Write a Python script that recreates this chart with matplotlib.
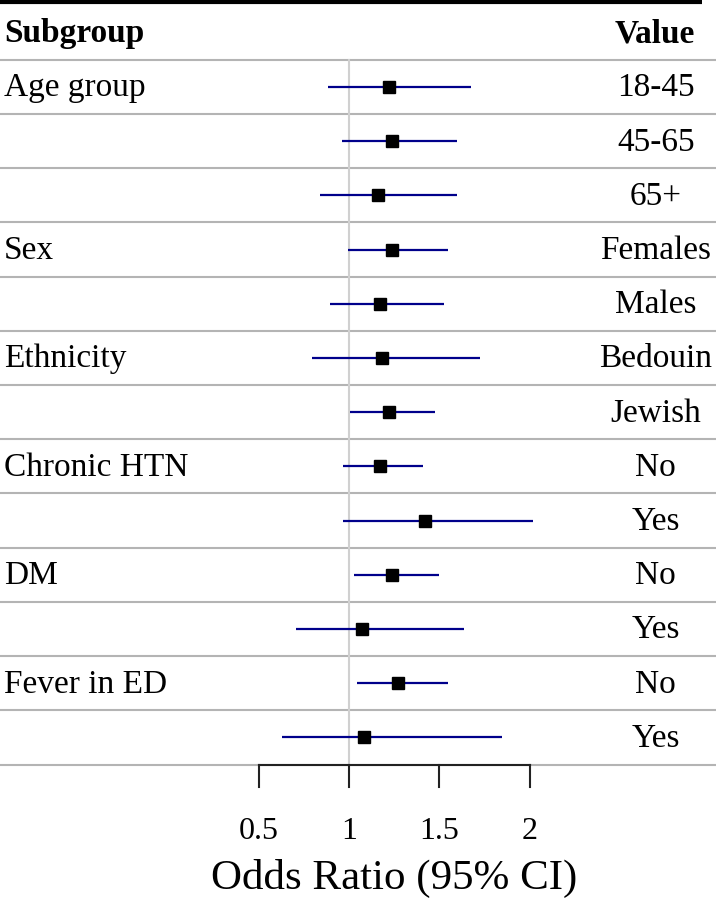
import numpy as np
import matplotlib
matplotlib.use("Agg")
import matplotlib.pyplot as plt
import matplotlib.transforms as mtransforms

plt.rcParams['font.family'] = ['Liberation Serif', 'DejaVu Serif']

# data
groups = ["Age group", "", "", "Sex", "", "Ethnicity", "", "Chronic HTN", "", "DM", "", "Fever in ED", ""]
values = ["18-45", "45-65", "65+", "Females", "Males", "Bedouin", "Jewish", "No", "Yes", "No", "Yes", "No", "Yes"]
odds = [1.22, 1.24, 1.16, 1.24, 1.17, 1.18, 1.22, 1.17, 1.42, 1.24, 1.07, 1.27, 1.08]
lower = [0.885, 0.96, 0.84, 0.995, 0.895, 0.795, 1.005, 0.965, 0.965, 1.025, 0.705, 1.045, 0.63]
upper = [1.675, 1.60, 1.60, 1.545, 1.525, 1.725, 1.475, 1.41, 2.02, 1.495, 1.635, 1.545, 1.845]
xticks = [0.5, 1, 1.5, 2]

fig = plt.figure(figsize=(7.16, 8.98), dpi=100)
ax = fig.add_axes([0, 0, 1, 1])
ax.set_xlim(-0.9317, 3.0307)
ax.set_ylim(14.963, -1.605)
ax.axis('off')

n = len(values)
ypos = np.arange(n)
bt = mtransforms.blended_transform_factory(ax.transAxes, ax.transData)

# top rule and header
ax.plot([0, 0.98], [-1.57, -1.57], transform=bt, color='black', lw=3, solid_capstyle='butt')
ax.text(0.006, -0.98, "Subgroup", transform=bt, fontsize=24, fontweight='bold', va='center', ha='left')
ax.text(0.914, -0.98, "Value", transform=bt, fontsize=24, fontweight='bold', va='center', ha='center')

# row separators
for i in range(n + 1):
    ax.plot([0, 1], [i - 0.5, i - 0.5], transform=bt, color='#b4b4b4', lw=1.5, zorder=1)

# reference line at 1
ax.plot([1, 1], [-0.5, n - 0.5], color='#d0d0d0', lw=1.5, zorder=1)

# CI lines and points
ax.hlines(ypos, lower, upper, color='#00008b', lw=1.6, zorder=3)
ax.plot(odds, ypos, 's', color='black', markersize=8.5, zorder=4)

for i in range(n):
    ax.text(0.005, i + 0.02, groups[i], transform=bt, fontsize=24, va='center', ha='left')
    ax.text(0.916, i + 0.02, values[i], transform=bt, fontsize=24, va='center', ha='center')

# x axis
ybase = n - 0.5
ax.plot([xticks[0], xticks[-1]], [ybase, ybase], color='#222222', lw=1.5, zorder=5)
for t in xticks:
    ax.plot([t, t], [ybase, ybase + 0.42], color='#222222', lw=1.5, zorder=5)
    ax.text(t, ybase + 1.23, f"{t:g}", fontsize=23, ha='center', va='center')
ax.text(1.25, ybase + 2.1, "Odds Ratio (95% CI)", fontsize=31, ha='center', va='center')

fig.savefig("out.png", dpi=100)
